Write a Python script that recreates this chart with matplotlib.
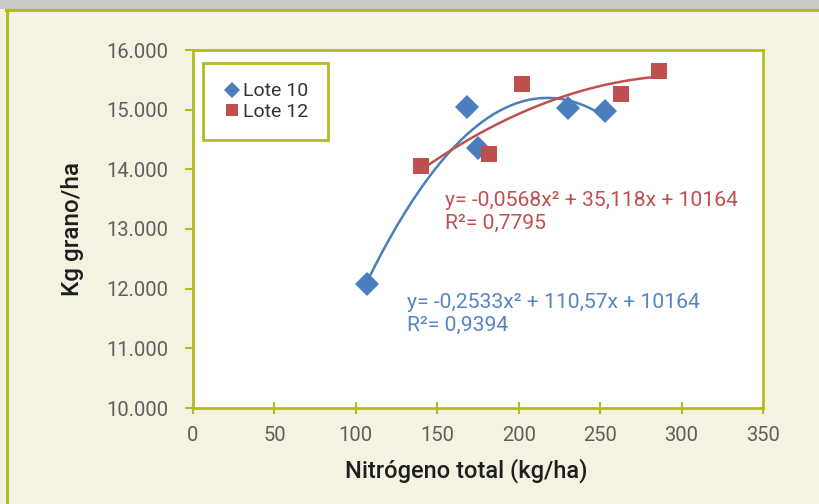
import matplotlib

matplotlib.use("Agg")
import matplotlib.pyplot as plt
from matplotlib.patches import Rectangle
from matplotlib.lines import Line2D
import numpy as np

# data
lote10_n = [107, 168, 175, 230, 253]
lote10_kg = [12080, 15045, 14355, 15030, 14975]
lote12_n = [140, 182, 202, 263, 286]
lote12_kg = [14055, 14255, 15430, 15265, 15650]

eq10 = "y= -0,2533x² + 110,57x + 10164\nR²= 0,9394"
eq12 = "y= -0,0568x² + 35,118x + 10164\nR²= 0,7795"

yticks = [10000, 11000, 12000, 13000, 14000, 15000, 16000]
ytick_labels = ["10.000", "11.000", "12.000", "13.000", "14.000", "15.000", "16.000"]
xticks = [0, 50, 100, 150, 200, 250, 300, 350]

blue = "#4a7ebf"
red = "#c0504d"
olive = "#b3bb24"
cream = "#f4f2e1"

plt.rcParams["font.family"] = ["Roboto", "DejaVu Sans"]

fig = plt.figure(figsize=(8.19, 5.04), dpi=100, facecolor=cream)

# grey strip at top and olive frame
fig.patches.append(Rectangle((0, 1 - 9 / 504), 1, 9 / 504, transform=fig.transFigure,
                             facecolor="#c9c9c7", edgecolor="none", zorder=0))
fig.add_artist(Line2D([6 / 819, 1], [1 - 10 / 504, 1 - 10 / 504], transform=fig.transFigure,
                      color=olive, lw=2.2))
fig.add_artist(Line2D([7 / 819, 7 / 819], [0, 1 - 10 / 504], transform=fig.transFigure,
                      color=olive, lw=2.2))

ax = fig.add_axes([193 / 819, 1 - 408 / 504, 570 / 819, 358 / 504])
ax.set_facecolor("white")

ax.plot(lote10_n, lote10_kg, "D", color=blue, markersize=12, markeredgewidth=0,
        label="Lote 10", zorder=3)
ax.plot(lote12_n, lote12_kg, "s", color=red, markersize=12, markeredgewidth=0,
        label="Lote 12", zorder=3)

# polynomial trendlines (order 2)
c10 = np.polyfit(lote10_n, lote10_kg, 2)
xs10 = np.linspace(min(lote10_n), max(lote10_n), 200)
ax.plot(xs10, np.polyval(c10, xs10), color=blue, lw=1.8, zorder=2)
c12 = np.polyfit(lote12_n, lote12_kg, 2)
xs12 = np.linspace(min(lote12_n), max(lote12_n), 200)
ax.plot(xs12, np.polyval(c12, xs12), color=red, lw=1.8, zorder=2)

ax.text(154.5, 13280, eq12, color=red, fontsize=15.2, linespacing=1.25, va="center")
ax.text(131.5, 11570, eq10, color="#5585c4", fontsize=15.2, linespacing=1.25, va="center")

ax.set_xlim(0, 350)
ax.set_ylim(10000, 16000)
ax.set_xticks(xticks)
ax.set_yticks(yticks)
ax.set_yticklabels(ytick_labels)

for s in ax.spines.values():
    s.set_color(olive)
    s.set_linewidth(2)
ax.tick_params(axis="both", colors=olive, labelcolor="#5e5e5e", labelsize=14.5,
               width=1.5)
ax.tick_params(axis="y", direction="out", length=6, pad=12)
ax.tick_params(axis="x", direction="inout", length=8, pad=9)

ax.set_xlabel("Nitrógeno total (kg/ha)", fontsize=17, color="#1e1e1e",
              fontweight="medium")
ax.xaxis.set_label_coords((466 - 193) / 570, -(471 - 408) / 358)
ax.xaxis.label.set_va("center")
ax.set_ylabel("Kg grano/ha", fontsize=17.5, color="#1e1e1e", labelpad=16,
              fontweight="medium")

leg = ax.legend(loc="upper left", bbox_to_anchor=(0.0175, 0.964), fontsize=14,
                handletextpad=0.05, handlelength=1.0, borderpad=1.0,
                labelspacing=0.12, fancybox=False, framealpha=1, borderaxespad=0)
leg.get_frame().set_edgecolor(olive)
leg.get_frame().set_linewidth(2)
for t in leg.get_texts():
    t.set_color("#333333")
for h in leg.legend_handles:
    h.set_markersize(8.5)

fig.savefig("out.png", dpi=100, facecolor=cream)
plt.close(fig)
